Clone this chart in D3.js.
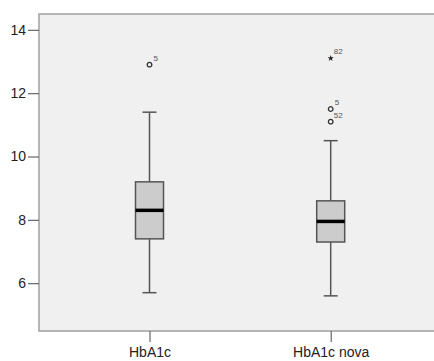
<!DOCTYPE html>
<html>
<head>
<meta charset="utf-8">
<script src="https://cdn.jsdelivr.net/npm/d3@7"></script>
<style>
  body { margin: 0; background: #fff; }
  svg text { font-family: "Liberation Sans", Arial, sans-serif; }
</style>
</head>
<body>
<div id="chart"></div>
<script>
// categories and box statistics
const categories = ["HbA1c", "HbA1c nova"];
const lowWhisker = [5.7, 5.6];
const q1 = [7.4, 7.3];
const median = [8.3, 7.95];
const q3 = [9.2, 8.6];
const highWhisker = [11.4, 10.5];

// outliers: category index, value, case label, extreme?
const outliers = [
    { cat: 0, value: 12.9, label: "5", extreme: false },
    { cat: 1, value: 11.5, label: "5", extreme: false },
    { cat: 1, value: 11.1, label: "52", extreme: false },
    { cat: 1, value: 13.1, label: "82", extreme: true }
];
const yTicks = [6, 8, 10, 12, 14];

const width = 434, height = 361;
const plotLeft = 39, plotTop = 14, plotBottom = 331;

const svg = d3.select("#chart").append("svg")
    .attr("width", width)
    .attr("height", height);

const y = d3.scaleLinear().domain([4.49, 14.5]).range([plotBottom, plotTop]);
const x = d3.scalePoint().domain(categories).range([149.5, 330.7]);

// plot background
svg.append("rect")
    .attr("x", plotLeft).attr("y", plotTop)
    .attr("width", width - plotLeft).attr("height", plotBottom - plotTop)
    .attr("fill", "#f0f0f0");

// frame lines (top, left, bottom)
svg.append("path")
    .attr("d", `M${width},${plotTop}H${plotLeft}V${plotBottom}H${width}`)
    .attr("fill", "none")
    .attr("stroke", "#a0a0a0")
    .attr("stroke-width", 1.5);

// y axis
const yAxis = svg.append("g")
    .attr("transform", `translate(${plotLeft},0)`)
    .call(d3.axisLeft(y).tickValues(yTicks).tickSize(11).tickPadding(2).tickFormat(d3.format("d")));
yAxis.select(".domain").remove();
yAxis.selectAll("line").attr("stroke", "#666").attr("stroke-width", 1.2);
yAxis.selectAll("text").attr("font-size", 14).attr("fill", "#222");

// x axis
const xAxis = svg.append("g")
    .attr("transform", `translate(0,${plotBottom})`)
    .call(d3.axisBottom(x).tickSize(11).tickPadding(5));
xAxis.select(".domain").remove();
xAxis.selectAll("line").attr("stroke", "#666").attr("stroke-width", 1.2);
xAxis.selectAll("text").attr("font-size", 14).attr("fill", "#222");

const boxW = 28;
const boxes = svg.append("g").selectAll("g")
    .data(categories)
    .join("g")
    .attr("transform", d => `translate(${x(d)},0)`);

// whiskers
boxes.append("line")
    .attr("y1", (d, i) => y(lowWhisker[i]))
    .attr("y2", (d, i) => y(highWhisker[i]))
    .attr("stroke", "#555").attr("stroke-width", 1.5);
boxes.append("line")
    .attr("x1", -7).attr("x2", 7)
    .attr("y1", (d, i) => y(lowWhisker[i])).attr("y2", (d, i) => y(lowWhisker[i]))
    .attr("stroke", "#555").attr("stroke-width", 1.5);
boxes.append("line")
    .attr("x1", -7).attr("x2", 7)
    .attr("y1", (d, i) => y(highWhisker[i])).attr("y2", (d, i) => y(highWhisker[i]))
    .attr("stroke", "#555").attr("stroke-width", 1.5);

// box
boxes.append("rect")
    .attr("x", -boxW / 2)
    .attr("width", boxW)
    .attr("y", (d, i) => y(q3[i]))
    .attr("height", (d, i) => y(q1[i]) - y(q3[i]))
    .attr("fill", "#cccccc")
    .attr("stroke", "#555")
    .attr("stroke-width", 1.5);

// median
boxes.append("line")
    .attr("x1", -boxW / 2).attr("x2", boxW / 2)
    .attr("y1", (d, i) => y(median[i])).attr("y2", (d, i) => y(median[i]))
    .attr("stroke", "#000").attr("stroke-width", 3.5);

// outliers
const pts = svg.append("g").selectAll("g")
    .data(outliers)
    .join("g")
    .attr("transform", d => `translate(${x(categories[d.cat])},${y(d.value)})`);

pts.filter(d => !d.extreme).append("circle")
    .attr("r", 2.3)
    .attr("fill", "none")
    .attr("stroke", "#333")
    .attr("stroke-width", 1.3);

pts.filter(d => d.extreme).append("path")
    .attr("d", d3.symbol(d3.symbolStar, 12))
    .attr("fill", "#222");

pts.append("text")
    .attr("x", d => d.label.length > 1 ? 3 : 4)
    .attr("y", -4)
    .attr("font-size", 8)
    .attr("fill", "#555")
    .text(d => d.label);
</script>
</body>
</html>
